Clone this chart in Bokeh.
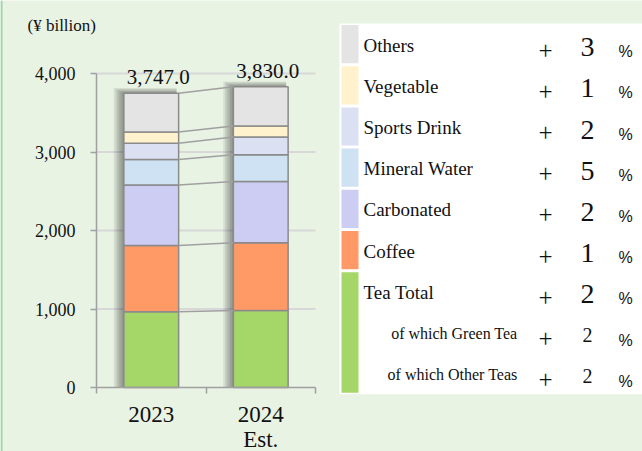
import numpy as np
from bokeh.plotting import figure
from bokeh.models import Range1d, FixedTicker, NumeralTickFormatter, LinearAxis, ColumnDataSource
from bokeh.core.properties import value
from bokeh.embed import file_html
from bokeh.resources import INLINE

# ---------------- data ----------------
years = ["2023", "2024\nEst."]
segments = ["Tea Total", "Coffee", "Carbonated", "Mineral Water",
            "Sports Drink", "Vegetable", "Others"]
tea = [965, 980]
coffee = [845, 865]
carbonated = [770, 780]
mineral = [325, 340]
sports = [205, 225]
vegetable = [145, 140]
others = [492, 500]
totals = [3747.0, 3830.0]
y_ticks = [0, 1000, 2000, 3000, 4000]
unit_label = "(¥ billion)"

legend_labels = ["Others", "Vegetable", "Sports Drink", "Mineral Water",
                 "Carbonated", "Coffee", "Tea Total",
                 "of which Green Tea", "of which Other Teas"]
legend_growth = [3, 1, 2, 5, 2, 1, 2, 2, 2]
legend_sub = [False, False, False, False, False, False, False, True, True]

# ---------------- styles / layout ----------------
seg_colors = ["#A4D767", "#FF9966", "#CDCDF3", "#CFE2F3", "#DBE0F2",
              "#FFF2CC", "#E4E4E4"]
legend_colors = ["#E4E4E4", "#FFF2CC", "#DBE0F2", "#CFE2F3", "#CDCDF3",
                 "#FF9966", "#A4D767"]
legend_spans = [1, 1, 1, 1, 1, 1, 3]
BG = "#E9F3E4"
AX = "#A0A0A0"
SERIF = "Liberation Serif"
SANS = "Liberation Sans"

W, H = 642, 451
CX0, CX1 = 96, 315      # pixel x of category-axis start / end
CY0, CY4 = 387, 73      # pixel y of 0 and of 4000
ncat = len(years)
ux = (CX1 - CX0) / ncat
uy = (CY0 - CY4) / 4000
x_range = Range1d(-CX0 / ux, ncat + (W - CX1) / ux)
y_range = Range1d(-(H - CY0) / uy, 4000 + CY4 / uy)

p = figure(width=W, height=H, x_range=x_range, y_range=y_range,
           output_backend="svg", toolbar_location=None, min_border=0,
           background_fill_color=BG, border_fill_color=BG,
           outline_line_color=None, x_axis_location=None,
           y_axis_location=None)
p.extra_x_ranges = {"px": Range1d(0, W)}
p.extra_y_ranges = {"px": Range1d(H, 0)}
p.grid.visible = False

# left green border
p.quad(left=0, right=2, top=0, bottom=H, fill_color="#96D6A8",
       line_color=None, x_range_name="px", y_range_name="px")

# grid lines
gt = np.array(y_ticks[1:])
p.segment(x0=np.zeros(len(gt)), x1=np.full(len(gt), ncat), y0=gt, y1=gt,
          line_color="#D8D8D8", line_width=2)

x = np.arange(ncat) + 0.5
bw = 0.5
stack_vals = [tea, coffee, carbonated, mineral, sports, vegetable, others]
src = ColumnDataSource(dict(x=x, **{s: v for s, v in zip(segments, stack_vals)}))

# soft shadow behind bars
tot = np.array(totals)
for k in range(1, 7):
    p.quad(left=x - bw / 2 - k * 1.7 / ux, right=x + bw / 2 - 2 / ux,
           top=tot + k * 0.9 / uy, bottom=np.zeros_like(tot),
           fill_color="black", fill_alpha=0.075, line_color=None)

p.vbar_stack(segments, x="x", width=bw, source=src, fill_color=seg_colors,
             line_color="#8A8A8A", line_width=1.5)

# connector lines between bars
cum = np.cumsum(np.array(stack_vals), axis=0)
p.segment(x0=np.full(len(cum), x[0] + bw / 2), y0=cum[:, 0],
          x1=np.full(len(cum), x[1] - bw / 2), y1=cum[:, 1],
          line_color="#A0A0A0", line_width=1.5)

# totals
p.text(x=x, y=tot + 16 / uy, text=[f"{v:,.1f}" for v in totals],
       text_align="center", text_baseline="middle", x_offset=7,
       text_font=value(SERIF), text_font_size="21px", text_color="#111111")

# axes, drawn at fixed locations inside the canvas
yax = LinearAxis(fixed_location=0, bounds=(0, 4000),
                 ticker=FixedTicker(ticks=y_ticks),
                 formatter=NumeralTickFormatter(format="0,0"))
yax.major_tick_in = 0
yax.major_tick_out = 6
yax.minor_tick_in = 0
yax.minor_tick_out = 0
yax.axis_line_color = AX
yax.axis_line_width = 1.5
yax.major_tick_line_color = AX
yax.major_tick_line_width = 1.5
yax.major_label_text_font = SERIF
yax.major_label_text_font_size = "18px"
yax.major_label_text_color = "#111111"
yax.major_label_standoff = 15
p.add_layout(yax, "left")

xax = LinearAxis(fixed_location=0, bounds=(0, ncat),
                 ticker=FixedTicker(ticks=list(x),
                                    minor_ticks=list(range(ncat + 1))))
xax.major_label_overrides = {float(xx): yy for xx, yy in zip(x, years)}
xax.major_tick_in = 0
xax.major_tick_out = 0
xax.minor_tick_in = 0
xax.minor_tick_out = 6
xax.minor_tick_line_color = AX
xax.minor_tick_line_width = 1.5
xax.axis_line_color = AX
xax.axis_line_width = 1.5
xax.major_label_text_font = SERIF
xax.major_label_text_font_size = "23px"
xax.major_label_text_color = "#111111"
xax.major_label_text_line_height = 1.0
xax.major_label_standoff = 8
p.add_layout(xax, "below")

# unit label
p.text(x=[27], y=[25], text=[unit_label], text_align="left",
       text_baseline="middle", text_font=value(SERIF),
       text_font_size="17px", text_color="#111111",
       x_range_name="px", y_range_name="px")

# ---------------- legend table ----------------
LX = 339
top0, rh = 23, 41.2
n = len(legend_labels)
kw = dict(x_range_name="px", y_range_name="px")
p.quad(left=LX, right=W, top=top0, bottom=top0 + n * rh, fill_color="white",
       line_color=None, **kw)

start = np.concatenate([[0], np.cumsum(legend_spans)[:-1]])
spans = np.array(legend_spans)
p.quad(left=LX + 2, right=LX + 19, top=top0 + start * rh + 1.5,
       bottom=top0 + (start + spans) * rh - 1.5, fill_color=legend_colors,
       line_color=None, **kw)

rc = top0 + (np.arange(n) + 0.5) * rh
sub = np.array(legend_sub)
main_idx = np.where(~sub)[0]
sub_idx = np.where(sub)[0]

tkw = dict(text_baseline="middle", text_color="#111111", **kw)
p.text(x=np.full(len(main_idx), LX + 24), y=rc[main_idx] + 1,
       text=[legend_labels[i] for i in main_idx], text_align="left",
       text_font=value(SERIF), text_font_size="19px", **tkw)
p.text(x=np.full(len(sub_idx), LX + 178), y=rc[sub_idx] + 0.5,
       text=[legend_labels[i] for i in sub_idx], text_align="right",
       text_font=value(SERIF), text_font_size="16px", **tkw)
p.text(x=np.full(n, LX + 206), y=rc + 6, text=["+"] * n,
       text_align="center", text_font=value(SERIF), text_font_size="25px",
       **tkw)
p.text(x=np.full(len(main_idx), LX + 248), y=rc[main_idx] + 3,
       text=[str(legend_growth[i]) for i in main_idx], text_align="center",
       text_font=value(SERIF), text_font_size="28px", **tkw)
p.text(x=np.full(len(sub_idx), LX + 248), y=rc[sub_idx] + 2,
       text=[str(legend_growth[i]) for i in sub_idx], text_align="center",
       text_font=value(SERIF), text_font_size="20px", **tkw)
p.text(x=np.full(n, LX + 286), y=rc + 7.5, text=["%"] * n,
       text_align="center", text_font=value(SANS), text_font_size="16px",
       **tkw)

open("out.html", "w").write(file_html(p, INLINE))
